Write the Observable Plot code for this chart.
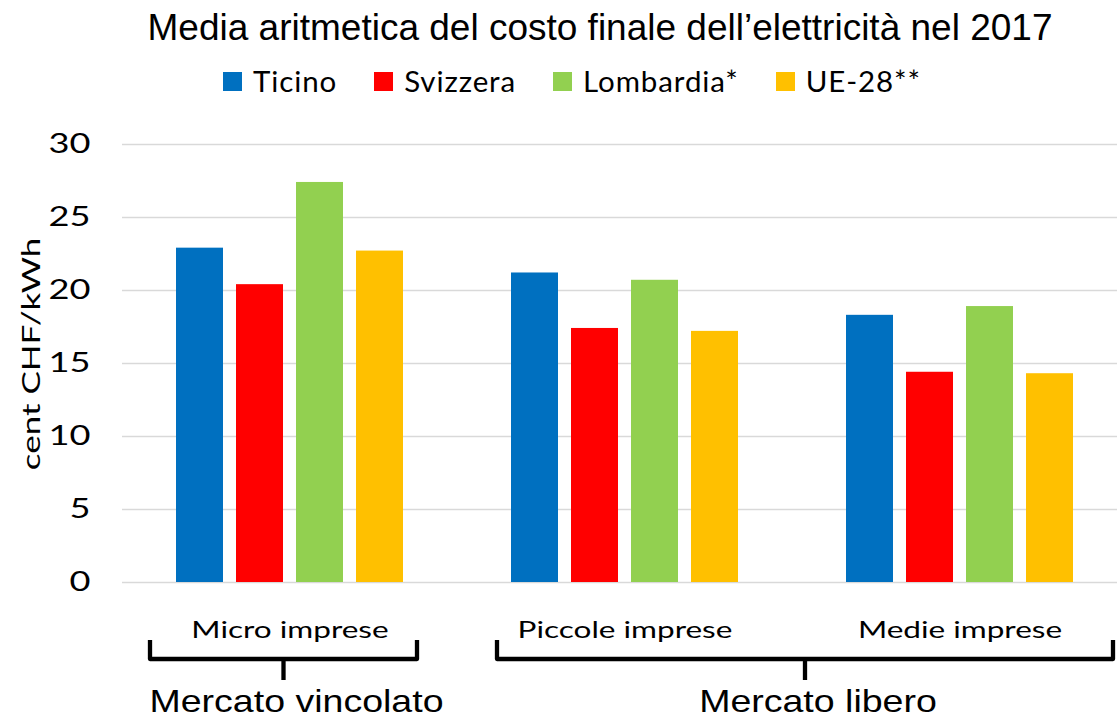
<!DOCTYPE html>
<html><head><meta charset="utf-8">
<script src="https://cdn.jsdelivr.net/npm/d3@7"></script>
<script src="https://cdn.jsdelivr.net/npm/@observablehq/plot@0.6"></script>
<style>
html,body{margin:0;padding:0;background:#fff;overflow:hidden;width:1117px;height:717px;}
#wrap{position:relative;width:1117px;height:717px;overflow:hidden;}
#title{position:absolute;top:9px;left:600px;transform:translateX(-50%);white-space:nowrap;font-family:"Liberation Sans",Arial,sans-serif;font-size:37px;line-height:37px;color:#000;}
#legend{position:absolute;top:67px;left:223px;display:flex;align-items:center;font-family:Lato,sans-serif;font-size:29.5px;line-height:28px;letter-spacing:0.9px;color:#000;}
.item{display:flex;align-items:center;margin-right:37px;}
.sw{width:19px;height:19px;margin-right:11px;}
#chart{position:absolute;top:110px;left:0;}
#chart svg{max-width:none !important;}
</style></head><body>
<div id="wrap"><div id="title"></div><div id="legend"></div><div id="chart"></div></div>
<script>
const titleText = "Media aritmetica del costo finale dell’elettricità nel 2017";
const groups = ["Micro imprese", "Piccole imprese", "Medie imprese"];
const series = ["Ticino", "Svizzera", "Lombardia*", "UE-28**"];
const ticino = [22.9, 21.2, 18.3];
const svizzera = [20.4, 17.4, 14.4];
const lombardia = [27.4, 20.7, 18.9];
const ue28 = [22.7, 17.2, 14.3];
const colors = ["#0070C0", "#FF0000", "#92D050", "#FFC000"];
const yTicks = [0, 5, 10, 15, 20, 25, 30];
const yLabel = "cent CHF/kWh";
const markets = ["Mercato vincolato", "Mercato libero"];
const marketFirst = ["Micro imprese", "Piccole imprese"];
const marketLast = ["Micro imprese", "Medie imprese"];

const seriesValues = [ticino, svizzera, lombardia, ue28];
const rows = [];
groups.forEach((g, i) => seriesValues.forEach((arr, j) => rows.push({group: g, series: series[j], value: arr[i]})));

document.getElementById("title").textContent = titleText;
const legend = d3.select("#legend");
series.forEach((s, j) => {
  const it = legend.append("div").attr("class", "item");
  it.append("div").attr("class", "sw").style("background", colors[j]);
  it.append("span").text(s);
});

const W = 1129, H = 607, ML = 121, MR = 1, MT = 34, MB = 135;
const chart = Plot.plot({
  width: W, height: H, marginLeft: ML, marginRight: MR, marginTop: MT, marginBottom: MB,
  style: {fontFamily: "Lato, sans-serif", background: "transparent", color: "#000", maxWidth: "none", overflow: "visible"},
  fx: {domain: groups, padding: 0, label: null},
  x: {domain: series, paddingInner: 0.2175, paddingOuter: 0.873, axis: null},
  y: {domain: [0, 30], label: null},
  color: {domain: series, range: colors},
  marks: [
    Plot.ruleY(yTicks, {stroke: "#d9d9d9", strokeWidth: 1.5}),
    Plot.barY(rows, {fx: "group", x: "series", y: "value", fill: "series"}),
    Plot.axisY(yTicks, {tickSize: 0, tickPadding: 32, fontSize: 27, label: null}),
    Plot.axisFx({anchor: "bottom", tickSize: 0, tickPadding: 39, fontSize: 23, label: null})
  ]
});
document.getElementById("chart").append(chart);

const svg = d3.select(chart);
const fx = chart.scale("fx");
const bw = fx.bandwidth;
const bottom = H - MB;

function stretch(sel, k) {
  sel.each(function () {
    const w = this.getComputedTextLength();
    this.setAttribute("textLength", (w * k).toFixed(1));
    this.setAttribute("lengthAdjust", "spacingAndGlyphs");
  });
}
stretch(svg.selectAll('g[aria-label="y-axis tick label"] text'), 1.34);
stretch(svg.selectAll('g[aria-label="fx-axis tick label"] text'), 1.37);

// y label
const yl = svg.append("text").attr("transform", `translate(${ML - 81},${(MT + bottom) / 2 - 9}) rotate(-90)`)
  .attr("text-anchor", "middle").attr("font-family", "Lato, sans-serif").attr("font-size", 25).attr("fill", "#000").text(yLabel);
stretch(yl, 1.40);

// brackets
const insetL = [28, 40], insetR = [40, 14];
markets.forEach((m, k) => {
  const x0 = fx.apply(marketFirst[k]) + insetL[k];
  const x1 = fx.apply(marketLast[k]) + bw - insetR[k];
  const mid = (x0 + x1) / 2;
  svg.append("path").attr("d", `M${x0},${bottom + 58}V${bottom + 77}H${x1}V${bottom + 58}M${mid},${bottom + 77}V${bottom + 98}`)
    .attr("fill", "none").attr("stroke", "#000").attr("stroke-width", 4.3).attr("stroke-linejoin", "round");
  const t = svg.append("text").attr("x", mid + 13).attr("y", bottom + 130).attr("text-anchor", "middle")
    .attr("font-family", "Liberation Sans, Arial, sans-serif").attr("font-size", 30.5).attr("fill", "#000").text(m);
  stretch(t, 1.23);
});
</script>
</body></html>
